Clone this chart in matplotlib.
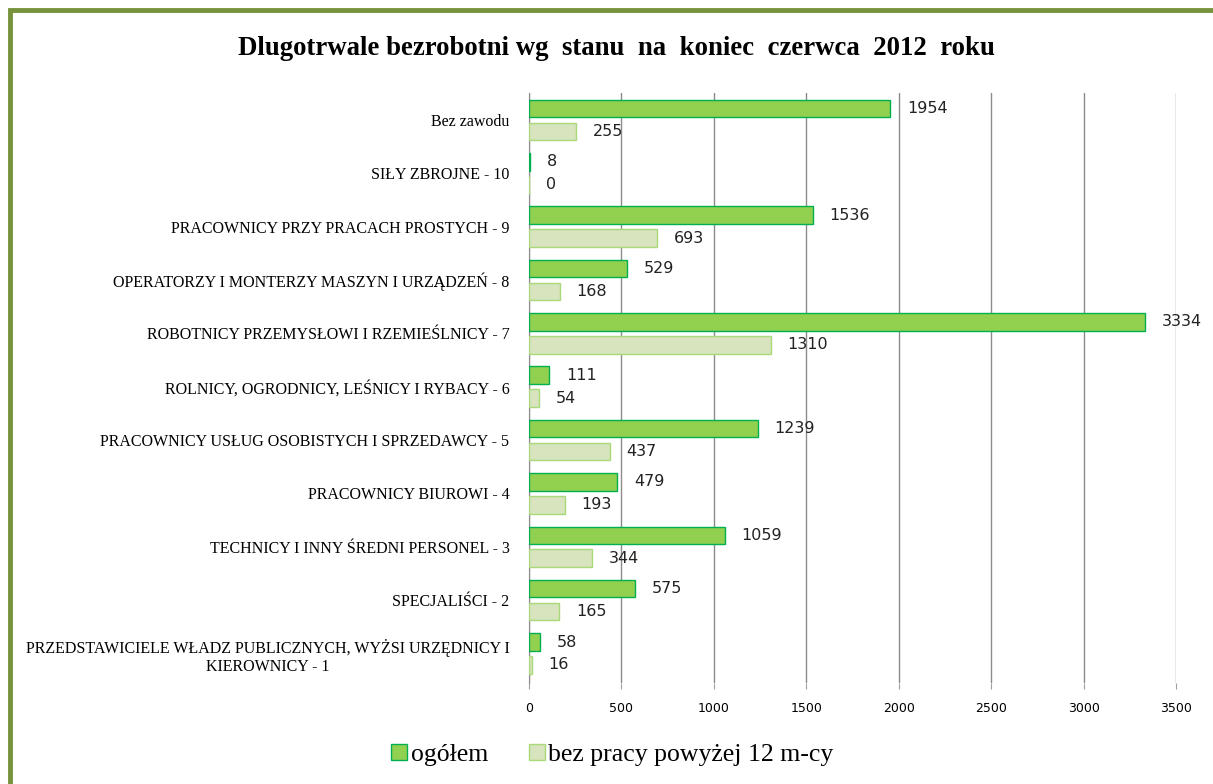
import numpy as np
import matplotlib.pyplot as plt
from matplotlib.patches import Rectangle

categories = ["Bez zawodu",
              "SIŁY ZBROJNE - 10",
              "PRACOWNICY PRZY PRACACH PROSTYCH - 9",
              "OPERATORZY I MONTERZY MASZYN I URZĄDZEŃ - 8",
              "ROBOTNICY PRZEMYSŁOWI I RZEMIEŚLNICY - 7",
              "ROLNICY, OGRODNICY, LEŚNICY I RYBACY - 6",
              "PRACOWNICY USŁUG OSOBISTYCH I SPRZEDAWCY - 5",
              "PRACOWNICY BIUROWI - 4",
              "TECHNICY I INNY ŚREDNI PERSONEL - 3",
              "SPECJALIŚCI - 2",
              "PRZEDSTAWICIELE WŁADZ PUBLICZNYCH, WYŻSI URZĘDNICY I\nKIEROWNICY - 1"]
ogolem = [1954, 8, 1536, 529, 3334, 111, 1239, 479, 1059, 575, 58]
powyzej12 = [255, 0, 693, 168, 1310, 54, 437, 193, 344, 165, 16]
xticks = [0, 500, 1000, 1500, 2000, 2500, 3000, 3500]

serif = "Liberation Serif"

fig = plt.figure(figsize=(12.13, 7.84), dpi=100)
ax = fig.add_axes([0.436, 0.129, 0.5335, 0.752])

y = np.arange(len(categories))
h = 0.33
off = 0.215
b1 = ax.barh(y - off, ogolem, height=h, color="#92D050", edgecolor="#00B050", linewidth=1, label="ogółem", zorder=3)
b2 = ax.barh(y + off, powyzej12, height=h, color="#D7E4BD", edgecolor="#A9D97A", linewidth=1,
             label="bez pracy powyżej 12 m-cy", zorder=3)

for bars, vals in ((b1, ogolem), (b2, powyzej12)):
    for r, v in zip(bars, vals):
        ax.annotate(str(v), (v, r.get_y() + r.get_height() / 2), xytext=(12, 0),
                    textcoords="offset points", ha="left", va="center",
                    fontsize=11.5, family="DejaVu Sans", color="#222222")

ax.set_xlim(0, 3500)
ax.set_ylim(10.55, -0.5)
ax.set_xticks(xticks)
ax.set_xticklabels([str(t) for t in xticks], fontsize=9, family="DejaVu Sans")
ax.set_yticks(y)
ax.set_yticklabels(categories, fontsize=11.5, family=serif, multialignment="center")
ax.tick_params(axis="y", length=0, pad=14)
ax.tick_params(axis="x", length=4, color="#a0a0a0", pad=10)
ax.grid(axis="x", color="#8c8c8c", linewidth=1, zorder=0)
for s in ("top", "right", "bottom"):
    ax.spines[s].set_visible(False)
ax.spines["left"].set_color("#8c8c8c")

fig.text(0.508, 0.938, "Dlugotrwale bezrobotni wg  stanu  na  koniec  czerwca  2012  roku",
         ha="center", va="center", fontsize=19.3, fontweight="bold", family=serif)

fig.legend(handles=[b1, b2], loc="center", bbox_to_anchor=(0.505, 0.037), ncol=2,
           frameon=False, prop={"family": serif, "size": 18.5}, handlelength=0.6,
           handleheight=0.6, handletextpad=0.15, columnspacing=1.6)

# green frame (left and top edges visible)
fig.patches.append(Rectangle((10 / 1213, -0.05), 1.2, 1 - 10 / 784 + 0.05, transform=fig.transFigure,
                             fill=False, edgecolor="#77933C", linewidth=3.5, zorder=10))

fig.savefig("out.png", dpi=100)
